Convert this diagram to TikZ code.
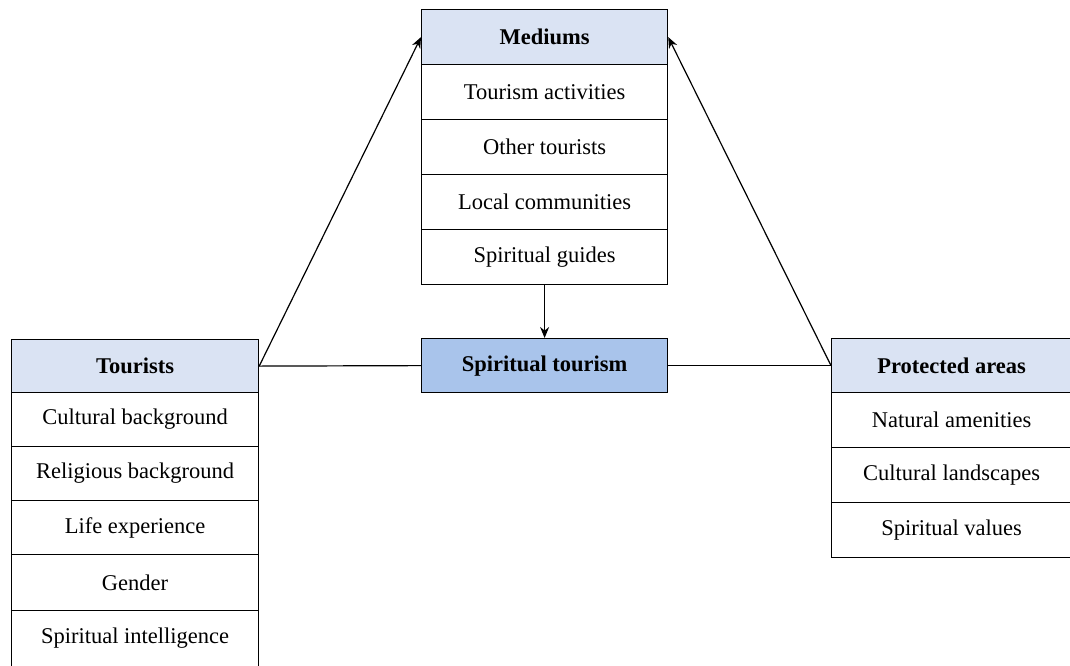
\documentclass[tikz,border=0pt]{standalone}
\usepackage{fontspec}
\setmainfont{Liberation Serif}
\usetikzlibrary{arrows.meta}
\definecolor{headblue}{HTML}{DAE3F3}
\definecolor{coreblue}{HTML}{A9C4EB}
\begin{document}
\begin{tikzpicture}[x=1pt,y=-1pt,
  cellbox/.style={draw, line width=1.2pt, inner sep=0pt, anchor=north west,
    font=\fontsize{22.5}{26}\selectfont},
  headbox/.style={cellbox, fill=headblue, font=\fontsize{22.5}{26}\selectfont\bfseries},
  link/.style={line width=1.2pt},
  arr/.style={line width=1.2pt, -{Stealth[length=11pt,width=9pt]}}]
\useasboundingbox (0,0) rectangle (1070,665);
% Mediums
\node[headbox, minimum width=246pt, minimum height=55pt] (mh) at (421,9) {Mediums};
\node[cellbox, minimum width=246pt, minimum height=55pt] (m1) at (421,64) {Tourism activities};
\node[cellbox, minimum width=246pt, minimum height=55pt] (m2) at (421,119) {Other tourists};
\node[cellbox, minimum width=246pt, minimum height=55pt] (m3) at (421,174) {Local communities};
\node[cellbox, minimum width=246pt, minimum height=55pt] (m4) at (421,229) {Spiritual guides};
% Spiritual tourism
\node[headbox, fill=coreblue, minimum width=246pt, minimum height=54pt] (st) at (421,338) {Spiritual tourism};
% Tourists
\node[headbox, minimum width=247pt, minimum height=53pt] (th) at (11,339) {Tourists};
\node[cellbox, minimum width=247pt, minimum height=54pt] (t1) at (11,392) {Cultural background};
\node[cellbox, minimum width=247pt, minimum height=54pt] (t2) at (11,446) {Religious background};
\node[cellbox, minimum width=247pt, minimum height=54pt] (t3) at (11,500) {Life experience};
\node[cellbox, minimum width=247pt, minimum height=56pt] (t4) at (11,554) {Gender};
\node[cellbox, minimum width=247pt, minimum height=56pt] (t5) at (11,610) {Spiritual intelligence};
% Protected areas
\node[headbox, minimum width=240pt, minimum height=54pt] (ph) at (831,338) {Protected areas};
\node[cellbox, minimum width=240pt, minimum height=55pt] (p1) at (831,392) {Natural amenities};
\node[cellbox, minimum width=240pt, minimum height=55pt] (p2) at (831,447) {Cultural landscapes};
\node[cellbox, minimum width=240pt, minimum height=55pt] (p3) at (831,502) {Spiritual values};
% connectors
\draw[link] (th.east) -- (st.west);
\draw[link] (st.east) -- (ph.west);
\draw[arr] (th.east) -- (mh.west);
\draw[arr] (ph.west) -- (mh.east);
\draw[arr] (m4.south) -- (st.north);
\end{tikzpicture}
\end{document}
